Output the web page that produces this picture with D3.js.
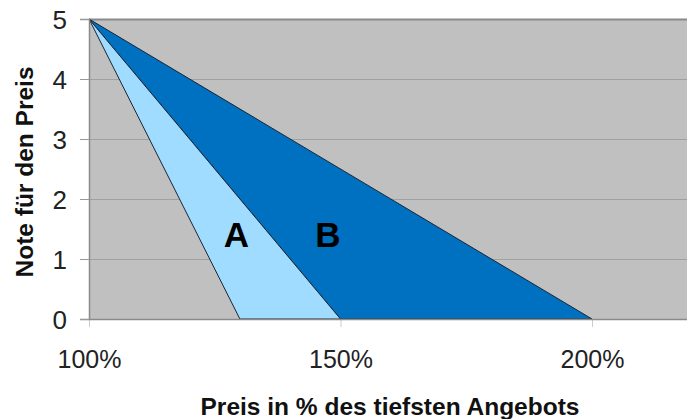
<!DOCTYPE html>
<html><head><meta charset="utf-8">
<script src="https://cdn.jsdelivr.net/npm/d3@7"></script>
<style>body{margin:0;background:#fff}svg{display:block}</style>
</head><body>
<svg id="c" width="687" height="419"></svg>
<script>
const xTicks = [100, 150, 200];
const yTicks = [0, 1, 2, 3, 4, 5];
// regions: [price %, note]
const regionB = [[100, 5], [200, 0], [150, 0]];
const regionA = [[100, 5], [150, 0], [130, 0]];
const labels = [{t: "A", x: 129.3, y: 1.2}, {t: "B", x: 147.5, y: 1.2}];
const xTitle = "Preis in % des tiefsten Angebots";
const yTitle = "Note für den Preis";

(function () {
const svg = d3.select("#c");
const pL = 89, pT = 19, pB = 319, pR = 687;
const x = d3.scaleLinear().domain([100, 200]).range([89, 592]);
const y = d3.scaleLinear().domain([0, 5]).range([pB, pT]);
const font = "'Liberation Sans', Arial, sans-serif";

svg.append("rect").attr("x", pL).attr("y", pT).attr("width", pR - pL + 5).attr("height", pB - pT).attr("fill", "#c0c0c0");
svg.append("g").selectAll("line").data(yTicks.filter(d => d > 0 && d < 5)).join("line")
  .attr("x1", pL).attr("x2", pR).attr("y1", d => y(d) + 0.5).attr("y2", d => y(d) + 0.5)
  .attr("stroke", "#a0a0a0").attr("stroke-width", 1);
svg.append("line").attr("x1", pL).attr("x2", pR).attr("y1", pT + 0.5).attr("y2", pT + 0.5).attr("stroke", "#8a8a8a").attr("stroke-width", 2);

const line = d3.line().x(d => x(d[0])).y(d => y(d[1]));
svg.append("path").attr("d", line(regionB) + "Z").attr("fill", "#0070c0").attr("stroke", "#1a2433").attr("stroke-width", 1);
svg.append("path").attr("d", line(regionA) + "Z").attr("fill", "#a0dcff").attr("stroke", "#1a2433").attr("stroke-width", 1);

const yAxis = d3.axisLeft(y).tickValues(yTicks).tickSize(9).tickFormat(d3.format("d"));
const gy = svg.append("g").attr("transform", `translate(${pL},0)`).call(yAxis);
gy.select(".domain").attr("stroke", "#8a8a8a").attr("stroke-width", 1.5);
gy.selectAll(".tick line").attr("stroke", "#999");
gy.selectAll("text").attr("x", -22).attr("dy", "0.36em").attr("font-family", font).attr("font-size", 26).attr("fill", "#222");

const xAxis = d3.axisBottom(x).tickValues(xTicks).tickSize(8).tickFormat(d => d + "%");
const gx = svg.append("g").attr("transform", `translate(0,${pB})`).call(xAxis);
gx.select(".domain").remove();
gx.append("line").attr("x1", pL).attr("x2", pR).attr("y1", 0.5).attr("y2", 0.5).attr("stroke", "#8a8a8a").attr("stroke-width", 1.5);
gx.selectAll(".tick line").attr("stroke", "#ccc");
gx.selectAll("text").attr("y", 31).attr("dy", "0.71em").attr("font-family", font).attr("font-size", 25).attr("fill", "#222");

svg.selectAll("text.lbl").data(labels).join("text").attr("class", "lbl")
  .attr("x", d => x(d.x)).attr("y", d => y(d.y)).attr("text-anchor", "middle")
  .attr("font-family", font).attr("font-weight", "bold").attr("font-size", 35).attr("fill", "#000").text(d => d.t);

svg.append("text").attr("x", 390).attr("y", 415).attr("text-anchor", "middle")
  .attr("font-family", font).attr("font-weight", "bold").attr("font-size", 24.5).attr("fill", "#111").text(xTitle);
svg.append("text").attr("transform", "translate(33,172) rotate(-90)").attr("text-anchor", "middle")
  .attr("font-family", font).attr("font-weight", "bold").attr("font-size", 24.5).attr("fill", "#111").text(yTitle);
})();
</script>
</body></html>
